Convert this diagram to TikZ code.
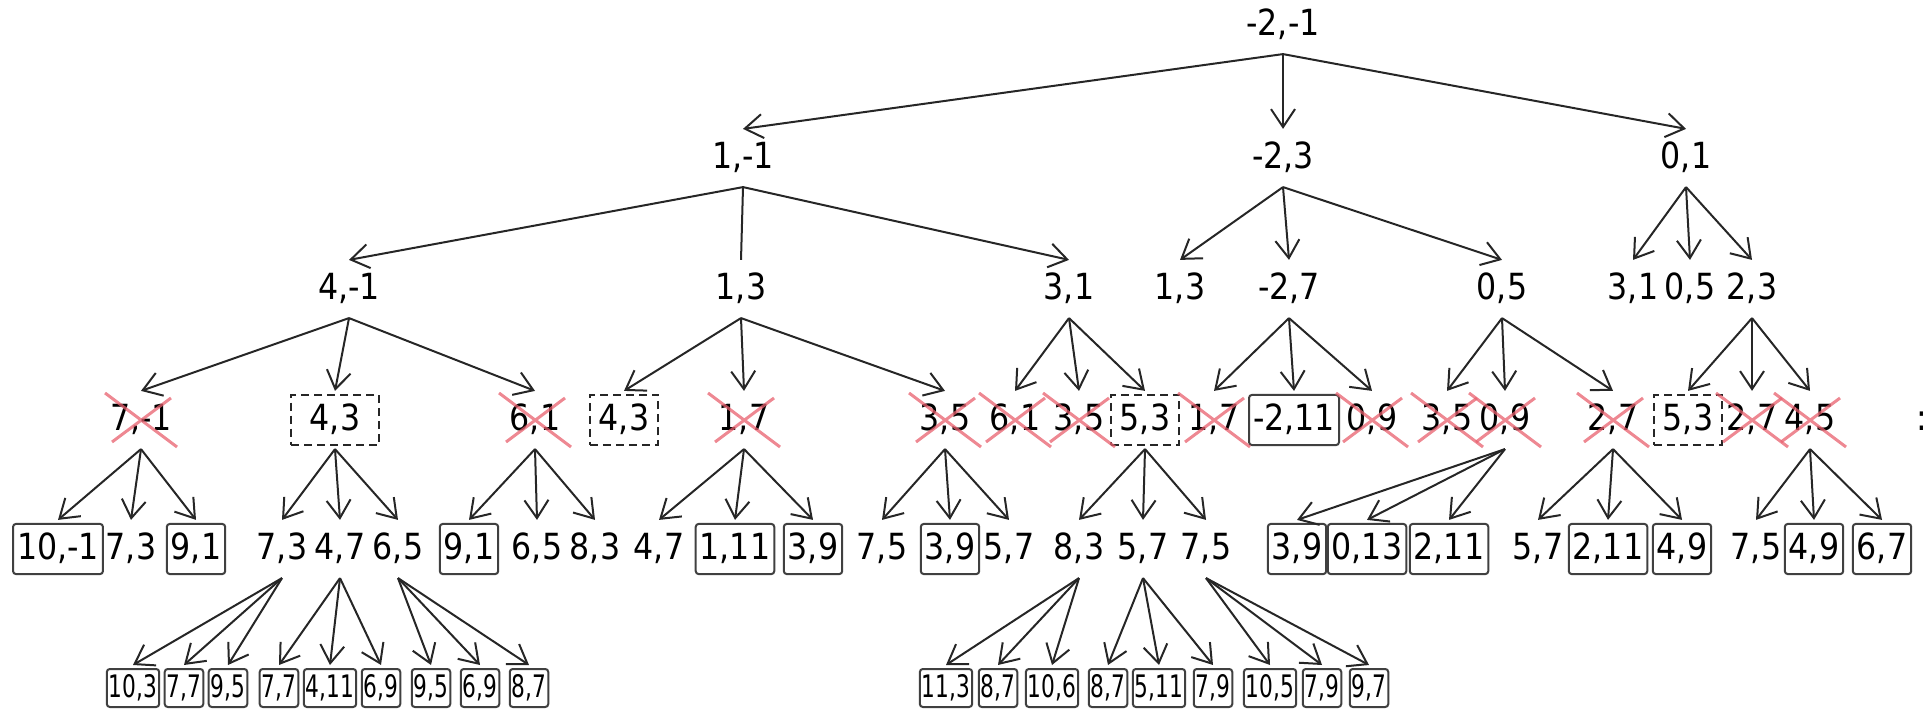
\documentclass[tikz,border=0pt]{standalone}
\usepackage{fontspec}
\newfontfamily\pairfont{DejaVu Sans}[FakeStretch=0.88]
\newfontfamily\leaffont{DejaVu Sans}[FakeStretch=0.7]
\usetikzlibrary{calc,arrows.meta}
\definecolor{strikered}{RGB}{232,96,110}
\tikzset{
  pair/.style={font=\pairfont\fontsize{18}{20}\selectfont, text height=13.5pt, text depth=3pt,
    inner xsep=2pt, inner ysep=4.3pt, outer sep=2pt},
  boxed/.style={pair, draw=black!75, line width=1pt, rounded corners=1.5pt},
  dashbox/.style={pair, draw=black!85, line width=1pt, dash pattern=on 4pt off 2.5pt, inner xsep=4.5pt},
  leaf/.style={font=\leaffont\fontsize{15.5}{17}\selectfont, text height=11.5pt, text depth=2.5pt,
    inner xsep=1pt, inner ysep=2.5pt, outer sep=2pt, draw=black!75, line width=1pt, rounded corners=1.5pt},
  link/.style={draw=black!85, line width=1pt, -{Straight Barb[length=9pt,width=12pt]}},
  strike/.style={draw=strikered, opacity=0.75, line width=1.5pt}
}
\begin{document}
\begin{tikzpicture}[x=0.5pt, y=-0.5pt]
  \useasboundingbox (0,0) rectangle (1925,710);
  % levels 0 and 1
  \node[pair] (r) at (1283,25) {-2,-1};
  \node[pair] (a) at (743,158) {1,-1};
  \node[pair] (b) at (1283,158) {-2,3};
  \node[pair] (c) at (1686,158) {0,1};
  % level 2
  \node[pair] (aa) at (349,289) {4,-1};
  \node[pair] (ab) at (741,289) {1,3};
  \node[pair] (ac) at (1069,289) {3,1};
  \node[pair] (ba) at (1180,289) {1,3};
  \node[pair] (bb) at (1289,289) {-2,7};
  \node[pair] (bc) at (1502,289) {0,5};
  \node[pair] (ca) at (1633,289) {3,1};
  \node[pair] (cb) at (1690,289) {0,5};
  \node[pair] (cc) at (1752,289) {2,3};
  % level 3
  \node[pair] (aaa) at (141,420) {7,-1};
  \node[dashbox, minimum width=44pt] (aab) at (335,420) {4,3};
  \node[pair] (aac) at (535,420) {6,1};
  \node[dashbox] (aba) at (624,420) {4,3};
  \node[pair] (abb) at (744,420) {1,7};
  \node[pair] (abc) at (945,420) {3,5};
  \node[pair] (aca) at (1015,420) {6,1};
  \node[pair] (acb) at (1079,420) {3,5};
  \node[dashbox] (acc) at (1145,420) {5,3};
  \node[pair] (bba) at (1214,420) {1,7};
  \node[boxed] (bbb) at (1294,420) {-2,11};
  \node[pair] (bbc) at (1372,420) {0,9};
  \node[pair] (bca) at (1447,420) {3,5};
  \node[pair] (bcb) at (1505,420) {0,9};
  \node[pair] (bcc) at (1613,420) {2,7};
  \node[dashbox] (cca) at (1688,420) {5,3};
  \node[pair] (ccb) at (1752,420) {2,7};
  \node[pair] (ccc) at (1810,420) {4,5};
  \node[pair] (colon) at (1922,420) {:};
  % level 4
  \node[boxed] (aaaa) at (58,549) {10,-1};
  \node[pair] (aaab) at (131,549) {7,3};
  \node[boxed] (aaac) at (196,549) {9,1};
  \node[pair] (aaba) at (282,549) {7,3};
  \node[pair] (aabb) at (340,549) {4,7};
  \node[pair] (aabc) at (398,549) {6,5};
  \node[boxed] (aaca) at (469,549) {9,1};
  \node[pair] (aacb) at (537,549) {6,5};
  \node[pair] (aacc) at (595,549) {8,3};
  \node[pair] (abba) at (659,549) {4,7};
  \node[boxed] (abbb) at (735,549) {1,11};
  \node[boxed] (abbc) at (813,549) {3,9};
  \node[pair] (abca) at (882,549) {7,5};
  \node[boxed] (abcb) at (950,549) {3,9};
  \node[pair] (abcc) at (1009,549) {5,7};
  \node[pair] (acca) at (1079,549) {8,3};
  \node[pair] (accb) at (1143,549) {5,7};
  \node[pair] (accc) at (1206,549) {7,5};
  \node[boxed] (bcba) at (1297,549) {3,9};
  \node[boxed] (bcbb) at (1367,549) {0,13};
  \node[boxed] (bcbc) at (1449,549) {2,11};
  \node[pair] (bcca) at (1538,549) {5,7};
  \node[boxed] (bccb) at (1608,549) {2,11};
  \node[boxed] (bccc) at (1682,549) {4,9};
  \node[pair] (ccca) at (1756,549) {7,5};
  \node[boxed] (cccb) at (1814,549) {4,9};
  \node[boxed] (cccc) at (1882,549) {6,7};
  % level 5
  \node[leaf] (aabaa) at (133,688) {10,3};
  \node[leaf] (aabab) at (184,688) {7,7};
  \node[leaf] (aabac) at (228,688) {9,5};
  \node[leaf] (aabba) at (279,688) {7,7};
  \node[leaf] (aabbb) at (330,688) {4,11};
  \node[leaf] (aabbc) at (381,688) {6,9};
  \node[leaf] (aabca) at (431,688) {9,5};
  \node[leaf] (aabcb) at (480,688) {6,9};
  \node[leaf] (aabcc) at (529,688) {8,7};
  \node[leaf] (accaa) at (946,688) {11,3};
  \node[leaf] (accab) at (998,688) {8,7};
  \node[leaf] (accac) at (1052,688) {10,6};
  \node[leaf] (accba) at (1108,688) {8,7};
  \node[leaf] (accbb) at (1159,688) {5,11};
  \node[leaf] (accbc) at (1213,688) {7,9};
  \node[leaf] (accca) at (1270,688) {10,5};
  \node[leaf] (acccb) at (1322,688) {7,9};
  \node[leaf] (acccc) at (1369,688) {9,7};
  % connectors
  \foreach \s in {a,b,c}
    \draw[link] (r.south) -- (\s.north);
  \draw[link] (a.south) -- (aa.north);
  \draw[link, -] (a.south) -- (ab.north);
  \draw[link] (a.south) -- (ac.north);
  \foreach \p in {b,c,aa,ab,ac,bb,bc,cc,aaa,aab,aac,abb,abc,acc,bcb,bcc,ccc,aaba,aabb,aabc,acca,accb,accc}
    \foreach \s in {a,b,c}
      \draw[link] (\p.south) -- (\p\s.north);
  % struck out pairs
  \foreach \n in {aaa,aac,abb,abc,aca,acb,bba,bbc,bca,bcb,bcc,ccb,ccc}
    \draw[strike] ($(\n)+(-36,-27)$) -- ($(\n)+(36,27)$)
      ($(\n)+(-29,22)$) -- ($(\n)+(30,-22)$);
\end{tikzpicture}
\end{document}
